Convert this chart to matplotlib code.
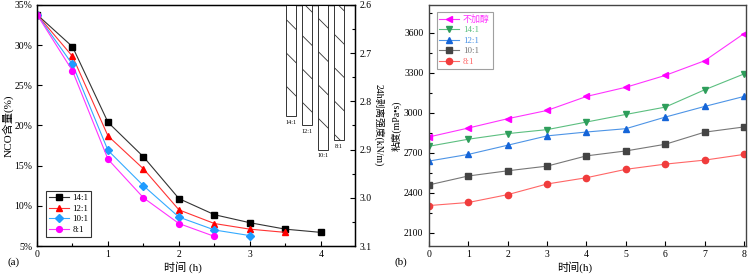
import matplotlib
matplotlib.use("Agg")
import matplotlib.pyplot as plt
from matplotlib.ticker import MultipleLocator, FuncFormatter

plt.rcParams['font.family'] = ['Liberation Serif', 'Noto Sans CJK SC', 'DejaVu Sans']
plt.rcParams['hatch.linewidth'] = 0.6
plt.rcParams['axes.unicode_minus'] = False

# ---- panel (a) data ----
t_a = [0, 0.5, 1, 1.5, 2, 2.5, 3, 3.5, 4]
nco_14 = [33.8, 29.8, 20.4, 16.1, 10.9, 8.9, 7.9, 7.1, 6.7]
nco_12 = [33.8, 28.6, 18.7, 14.6, 9.5, 7.8, 7.1, 6.7]
nco_10 = [33.8, 27.6, 16.9, 12.5, 8.6, 7.0, 6.3]
nco_8 = [33.8, 26.8, 15.8, 11.0, 7.8, 6.2]
ratio_labels = ['14:1', '12:1', '10:1', '8:1']
peel_strength = [2.83, 2.85, 2.90, 2.88]
bar_x = [3.58, 3.80, 4.03, 4.25]

# ---- panel (b) data ----
t_b = [0, 1, 2, 3, 4, 5, 6, 7, 8]
visc_none = [2819, 2886, 2956, 3018, 3123, 3192, 3281, 3391, 3595]
visc_14 = [2749, 2802, 2844, 2874, 2931, 2988, 3043, 3173, 3292]
visc_12 = [2638, 2688, 2757, 2827, 2856, 2881, 2968, 3048, 3123]
visc_10 = [2459, 2526, 2565, 2600, 2677, 2714, 2764, 2855, 2894]
visc_8 = [2304, 2327, 2386, 2466, 2513, 2576, 2615, 2645, 2688]
legend_b = ['不加醇', '14:1', '12:1', '10:1', '8:1']

fig = plt.figure(figsize=(7.49, 2.74), dpi=100)

fs = 7
lfs = 8
# ---------- (a) ----------
ax = fig.add_axes([0.0494, 0.102, 0.4246, 0.880])
ms = 4.2
ax.plot(t_a[:len(nco_14)], nco_14, '-s', color='#333333', mfc='black', mec='black', ms=ms, lw=0.8, label=ratio_labels[0])
ax.plot(t_a[:len(nco_12)], nco_12, '-^', color='#ff3333', mfc='red', mec='red', ms=ms+0.6, lw=0.8, label=ratio_labels[1])
ax.plot(t_a[:len(nco_10)], nco_10, '-D', color='#33aaff', mfc='#1e9bff', mec='#1e9bff', ms=ms-0.4, lw=0.8, label=ratio_labels[2])
ax.plot(t_a[:len(nco_8)], nco_8, '-o', color='#ff33ff', mfc='#ff00ff', mec='#ff00ff', ms=ms, lw=0.8, label=ratio_labels[3])
ax.set_xlim(0, 4.48)
ax.set_ylim(5, 35)
ax.xaxis.set_major_locator(MultipleLocator(1))
ax.xaxis.set_minor_locator(MultipleLocator(0.5))
ax.yaxis.set_major_locator(MultipleLocator(5))
ax.yaxis.set_major_formatter(FuncFormatter(lambda v, p: f'{int(v)}%'))
ax.tick_params(axis='both', which='both', direction='in', labelsize=fs, top=False, right=False)
ax.tick_params(which='major', length=3.5, width=0.8, pad=2.5)
ax.tick_params(which='minor', length=2, width=0.8)
ax.tick_params(axis='y', which='major', pad=3.5)
ax.set_ylabel('NCO含量(%)', fontsize=lfs, va='center')
ax.yaxis.set_label_coords(-0.093, 0.5)
ax.set_xlabel('时间 (h)', fontsize=lfs, va='center')
ax.xaxis.set_label_coords(0.46, -0.087)
for s in ax.spines.values():
    s.set_linewidth(1.0)
leg = ax.legend(loc='lower left', fontsize=6.5, frameon=True, fancybox=False, edgecolor='black',
                handlelength=2.2, borderpad=0.3, labelspacing=0.25, handletextpad=0.4,
                bbox_to_anchor=(0.015, 0.02))
leg.get_frame().set_linewidth(0.8)

ax2 = ax.twinx()
heights = [v - 2.6 for v in peel_strength]
ax2.bar(bar_x, heights, bottom=2.6, width=0.14, color='white', edgecolor='#333333',
        hatch='\\', linewidth=0.7)
ax2.set_ylim(3.1, 2.6)
ax2.yaxis.set_major_locator(MultipleLocator(0.1))
ax2.yaxis.set_minor_locator(MultipleLocator(0.05))
ax2.yaxis.set_major_formatter(FuncFormatter(lambda v, p: f'{v:.1f}'))
ax2.tick_params(axis='y', which='both', direction='in', labelsize=fs)
ax2.tick_params(which='major', length=3.5, width=0.8, pad=3.5)
ax2.tick_params(which='minor', length=2, width=0.8)
ax2.set_ylabel('24h剥离强度(kN/m)', fontsize=7, rotation=270, va='center')
ax2.yaxis.set_label_coords(1.075, 0.5)
for xb, v, lab in zip(bar_x, peel_strength, ratio_labels):
    ax2.text(xb, v + 0.008, lab, ha='center', va='top', fontsize=4.5)

# ---------- (b) ----------
bx = fig.add_axes([0.5727, 0.102, 0.4233, 0.880])
ms = 4.5
bx.plot(t_b, visc_none, '-<', color='#ff33ff', mfc='#ff00ff', mec='#ff00ff', ms=ms, lw=0.8, label=legend_b[0])
bx.plot(t_b, visc_14, '-v', color='#5cbf80', mfc='#2e9e5b', mec='#2e9e5b', ms=ms, lw=0.8, label=legend_b[1])
bx.plot(t_b, visc_12, '-^', color='#4d94e6', mfc='#1565d8', mec='#1565d8', ms=ms, lw=0.8, label=legend_b[2])
bx.plot(t_b, visc_10, '-s', color='#777777', mfc='#444444', mec='#444444', ms=ms - 0.6, lw=0.8, label=legend_b[3])
bx.plot(t_b, visc_8, '-o', color='#ff6666', mfc='#f03c3c', mec='#f03c3c', ms=ms, lw=0.8, label=legend_b[4])
bx.set_xlim(0, 8.05)
bx.set_ylim(2000, 3810)
bx.xaxis.set_major_locator(MultipleLocator(1))
bx.yaxis.set_major_locator(MultipleLocator(300))
bx.yaxis.set_minor_locator(MultipleLocator(150))
bx.tick_params(axis='both', which='both', direction='in', labelsize=fs, top=False, right=False)
bx.tick_params(which='major', length=3.5, width=0.8, pad=2.5)
bx.tick_params(which='minor', length=2, width=0.8)
bx.tick_params(axis='y', which='major', pad=4)
bx.set_ylabel('粘度(mPa•s)', fontsize=7, va='center')
bx.yaxis.set_label_coords(-0.104, 0.5)
bx.set_xlabel('时间(h)', fontsize=lfs, va='center')
bx.xaxis.set_label_coords(0.46, -0.087)
for s in bx.spines.values():
    s.set_linewidth(1.0)
    s.set_color('#444444')
legb = bx.legend(loc='upper left', fontsize=6.5, frameon=True, fancybox=False, edgecolor='#888888',
                 handlelength=2.2, borderpad=0.3, labelspacing=0.25, handletextpad=0.4,
                 bbox_to_anchor=(0.01, 0.99))
legb.get_frame().set_linewidth(0.8)
for txt, line in zip(legb.get_texts(), legb.get_lines()):
    txt.set_color(line.get_color())

fig.text(0.010, 0.035, '(a)', fontsize=lfs)
fig.text(0.527, 0.035, '(b)', fontsize=lfs)

fig.savefig('out.png', dpi=100)
